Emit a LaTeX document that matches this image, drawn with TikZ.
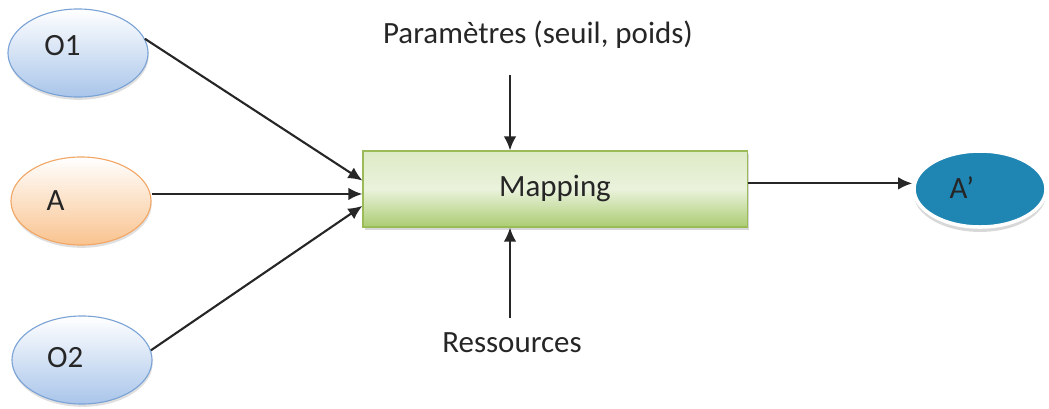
\documentclass[tikz,border=0pt]{standalone}
\usepackage{fontspec}
\setmainfont{Carlito}
\usetikzlibrary{shapes.geometric,shadows,arrows.meta}
\definecolor{oblue}{HTML}{7BA3D6}
\definecolor{oblueb}{HTML}{A9C5EA}
\definecolor{aorange}{HTML}{F2A766}
\definecolor{aorangeb}{HTML}{F9C38F}
\definecolor{mgreen}{HTML}{9BBB59}
\definecolor{mgreenb}{HTML}{ABCC72}
\definecolor{apblue}{HTML}{1F86B4}
\tikzset{
  lbl/.style={font=\fontsize{22}{26}\selectfont, text=black!85},
  entree/.style={ellipse, minimum width=3.5cm, minimum height=2.2cm, line width=0.8pt},
  objet/.style={entree, draw=oblue, top color=white, bottom color=oblueb,
    drop shadow={shadow xshift=0.5pt, shadow yshift=-2pt, fill=gray!50}},
  action/.style={entree, draw=aorange, top color=white, bottom color=aorangeb,
    drop shadow={shadow xshift=0.5pt, shadow yshift=-2pt, fill=gray!50}},
  mapbox/.style={rectangle, draw=mgreen, line width=0.8pt, minimum width=9.6cm,
    minimum height=1.9cm, top color=mgreenb!40, bottom color=mgreenb, middle color=mgreenb!25,
    drop shadow={shadow xshift=1.5pt, shadow yshift=-2pt, fill=gray!60}, lbl},
  sortie/.style={ellipse, minimum width=3.3cm, minimum height=1.9cm, fill=apblue,
    draw=white, line width=2.5pt,
    drop shadow={shadow xshift=0pt, shadow yshift=-3.5pt, fill=gray!60}},
  arr/.style={-{Latex[length=10pt,width=9pt]}, line width=1.5pt, draw=black!85}
}
\begin{document}
\begin{tikzpicture}[x=0.025cm, y=-0.025cm]
    \useasboundingbox (0,0) rectangle (1049,408);
    % entrees
    \node[objet, label={[lbl, xshift=-11pt, yshift=5pt]center:O1}] (o1) at (78,53) {};
    \node[action, label={[lbl, xshift=-18pt]center:A}] (a) at (81,201) {};
    \node[objet, label={[lbl, xshift=-12pt, yshift=2pt]center:O2}] (o2) at (82,360) {};
    % traitement
    \node[mapbox] (map) at (555,189) {Mapping};
    \node[sortie, label={[lbl, xshift=-13pt, yshift=1pt]center:A'}] (ap) at (980,189) {};
    \node[lbl] (param) at (538,35) {Paramètres (seuil, poids)};
    \node[lbl] (res) at (512,343) {Ressources};
    \coordinate (ptop) at (510,75);
    \coordinate (rbot) at (510,318);
    % fleches
    \draw[arr] (o1.12) -- ([yshift=6pt]map.west);
    \draw[arr] ([yshift=5pt]a.east) -- ([yshift=5pt]a.east -| map.west);
    \draw[arr] (o2.8) -- ([yshift=-12pt]map.west);
    \draw[arr] ([yshift=4pt]map.east) -- ([yshift=4pt]map.east -| ap.west);
    \draw[arr] (ptop) -- (ptop |- map.north);
    \draw[arr] (rbot) -- (rbot |- map.south);
\end{tikzpicture}
\end{document}
